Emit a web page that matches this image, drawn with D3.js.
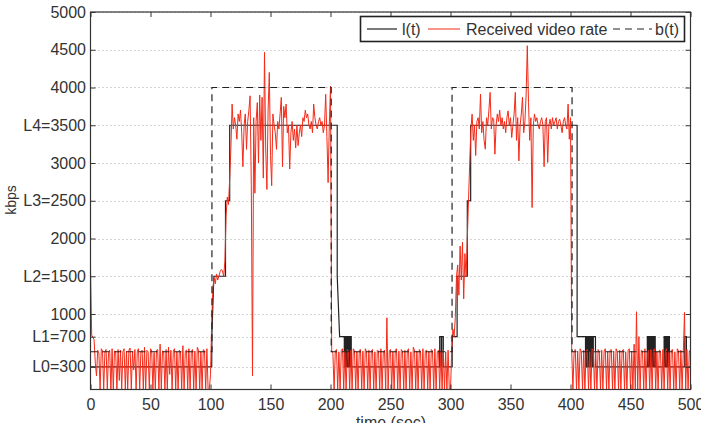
<!DOCTYPE html>
<html><head><meta charset="utf-8">
<script src="https://cdn.jsdelivr.net/npm/d3@7"></script>
<style>
html,body{margin:0;padding:0;background:#fff;}
svg{display:block;font-family:"Liberation Sans",Arial,Helvetica,sans-serif;}
</style></head>
<body>
<svg id="chart" width="701" height="423"></svg>
<script>
// ---- data ----
const xTicks = [0,50,100,150,200,250,300,350,400,450,500];
const yTickValues = [300,700,1000,1500,2000,2500,3000,3500,4000,4500,5000];
const yTickLabels = ["L0=300","L1=700","1000","L2=1500","2000","L3=2500","3000","L4=3500","4000","4500","5000"];
const legendLabels = ["l(t)","Received video rate","b(t)"];

// received video rate, 1 s samples, t = 0..100
const redIdle1 = [1600,720,690,660,350,180,520,480,0,540,510,0,500,530,0,490,520,0,540,0,
 510,500,0,530,120,520,0,500,540,0,510,0,520,550,0,500,260,530,0,510,
 540,0,500,520,0,560,0,520,500,0,540,510,0,490,0,520,530,0,600,0,
 510,500,0,530,0,560,200,520,0,510,540,0,500,0,520,500,0,580,0,510,
 520,0,540,0,500,530,0,510,0,560,520,0,500,0,530,510,0,540,0,0,200];
// t = 101..200
const redHigh1 = [900,1350,1480,1400,1530,1450,1500,1560,1590,1570,1500,1700,2300,2550,2450,2800,3200,3780,3450,3600,
 3500,3315,3650,3550,3700,3400,2950,3500,3650,3180,3550,3700,3890,2700,180,3600,2600,3550,3800,3000,
 3900,3300,3870,2800,4465,3200,2650,3700,4200,3100,2700,3650,3500,3400,3180,3550,3450,3650,3870,2950,
 3750,3600,3780,3400,3500,2920,3400,3550,3300,3450,3200,3500,3230,3400,3500,3350,3600,3550,3700,3600,
 3650,3500,3450,3550,3400,3780,3600,3500,3450,3550,3600,3500,3550,3400,3500,3910,3350,2740,3500,4020];
// t = 201..300
const redIdle2 = [520,480,0,510,530,0,500,0,520,540,0,510,0,530,500,0,520,0,540,510,
 0,500,0,520,530,0,510,0,540,500,0,520,0,510,530,0,500,0,520,510,
 0,540,0,500,520,0,950,0,510,530,0,500,0,520,540,0,510,0,530,500,
 0,520,0,510,540,0,500,0,560,520,0,510,0,530,500,0,540,0,510,520,
 0,500,0,530,510,0,540,0,500,520,0,510,0,530,0,500,0,520,0,0];
// t = 301..400
const redHigh2 = [500,800,700,950,1500,1650,1250,1900,1450,1950,1200,1800,1500,2000,2500,3000,3450,3647,3300,3500,
 3100,3550,3600,3450,3912,3400,3550,3300,3183,3600,3500,3700,3935,3450,3600,3580,3117,3500,3650,3550,
 3700,3500,3600,3450,3550,3400,3600,3690,3500,3600,3337,3500,3650,3935,3300,3600,3028,3500,3650,3870,
 3400,3550,3900,4553,3800,3300,3600,2410,3500,3650,3550,3600,3500,3450,3550,3600,3500,2950,3550,3600,
 3006,3500,3580,3450,3600,3500,3550,3600,3450,3550,3580,3500,3400,3550,3600,3500,3450,3780,3315,3600];
// t = 401..500
const redIdle3 = [520,0,500,530,0,510,0,540,500,0,520,0,510,530,0,500,0,540,520,0,
 510,0,530,500,0,520,0,510,540,0,500,0,520,530,0,510,0,540,500,0,
 520,0,510,530,0,500,0,520,540,0,510,0,600,0,1030,0,700,0,520,510,
 0,540,0,500,520,0,530,0,510,540,0,500,0,520,510,0,530,0,500,540,
 0,510,0,520,530,0,500,0,540,510,0,520,0,500,1020,0,530,0,510,520];

// l(t): breakpoints
const lTimes = [0,101,101.2,102.8,112.5,112.5,116,116,205.6,205.6,207.6,211.5,211.5,212.3,212.3,213,213,213.8,213.8,214.5,
 214.5,215.3,215.3,216,216,216.6,216.6,217.3,217.3,291,291,292.3,292.3,292.7,292.7,294,294,301.4,301.4,305.5,
 305.5,314,314,316.8,316.8,405.5,405.5,412.5,412.5,413.3,413.3,414.2,414.2,415,415,416,416,417,417,418,
 418,419,419,420.8,420.8,464,464,465,465,466,466,467,467,468,468,469,469,470,470,470.6,
 470.6,478,478,479,479,480,480,481,481,481.8,481.8,482.4,482.4,495.2,495.2,496.6,496.6,500];
const lValues = [300,300,750,1500,1500,2500,2500,3500,3500,1500,700,700,300,300,700,700,300,300,700,700,
 300,300,700,700,300,300,700,700,300,300,700,700,300,300,700,700,300,300,700,700,
 1500,1500,2500,2500,3500,3500,700,700,300,300,700,700,300,300,700,700,300,300,700,700,
 300,300,700,700,300,300,700,700,300,300,700,700,300,300,700,700,300,300,700,700,
 300,300,700,700,300,300,700,700,300,300,700,700,300,300,700,700,300,300];

// b(t): breakpoints
const bTimes = [0,101.2,101.2,200.6,200.6,301.3,301.3,401.3,401.3,500];
const bValues = [500,500,4000,4000,500,500,4000,4000,500,500];

// ---- drawing ----
const svg = d3.select("#chart");
const x = d3.scaleLinear().domain([0,500]).range([90.5,690.5]);
const y = d3.scaleLinear().domain([0,5000]).range([389.5,12]);
const textColor = "#333";

const redSeries = [].concat(redIdle1, redHigh1, redIdle2, redHigh2, redIdle3);
const redData = redSeries.map((v,i)=>({t:i, v:v}));
const lData = lTimes.map((t,i)=>({t:t, v:lValues[i]}));
const bData = bTimes.map((t,i)=>({t:t, v:bValues[i]}));

// grid
svg.append("g").selectAll("line").data(yTickValues).join("line")
  .attr("x1", x(0)).attr("x2", x(500))
  .attr("y1", d=>Math.round(y(d))+0.5).attr("y2", d=>Math.round(y(d))+0.5)
  .attr("stroke","#a8a8a8").attr("stroke-width",1).attr("stroke-dasharray","1,3");

// clip
svg.append("clipPath").attr("id","clip").append("rect")
  .attr("x",x(0)).attr("y",y(5000)).attr("width",x(500)-x(0)).attr("height",y(0)-y(5000));

const line = d3.line().x(d=>x(d.t)).y(d=>y(d.v));
const plot = svg.append("g").attr("clip-path","url(#clip)");
plot.append("path").datum(lData).attr("d",line)
  .attr("fill","none").attr("stroke","#222").attr("stroke-width",1.2);
plot.append("path").datum(redData).attr("d",line)
  .attr("fill","none").attr("stroke","#f42a18").attr("stroke-width",1);
plot.append("path").datum(bData).attr("d",line)
  .attr("fill","none").attr("stroke","#222").attr("stroke-width",1.2).attr("stroke-dasharray","7,5");

// axes
const fontSize = 16;
const gx = svg.append("g").attr("transform",`translate(0,${y(0)})`)
  .call(d3.axisBottom(x).tickValues(xTicks).tickSize(-5).tickPadding(9).tickFormat(d3.format("d")));
const gxt = svg.append("g").attr("transform",`translate(0,${y(5000)})`)
  .call(d3.axisTop(x).tickValues(xTicks).tickSize(-5).tickFormat(""));
const gy = svg.append("g").attr("transform",`translate(${x(0)},0)`)
  .call(d3.axisLeft(y).tickValues(yTickValues).tickSize(-5).tickPadding(4.5).tickFormat((d,i)=>yTickLabels[i]));
const gyr = svg.append("g").attr("transform",`translate(${x(500)},0)`)
  .call(d3.axisRight(y).tickValues(yTickValues).tickSize(-5).tickFormat(""));
[gx,gxt,gy,gyr].forEach(g=>{
  g.select(".domain").remove();
  g.selectAll(".tick line").attr("stroke","#333").attr("stroke-width",1);
  g.selectAll("text").attr("font-size",fontSize).attr("fill",textColor)
    .attr("font-family","'Liberation Sans',Arial,sans-serif");
});

// frame
svg.append("rect").attr("x",x(0)).attr("y",y(5000)).attr("width",x(500)-x(0)).attr("height",y(0)-y(5000))
  .attr("fill","none").attr("stroke","#333").attr("stroke-width",1.2);

// axis titles
svg.append("text").attr("x",391).attr("y",428).attr("text-anchor","middle")
  .attr("font-size",fontSize).attr("fill",textColor).text("time (sec)");
svg.append("text").attr("transform","translate(16,200) rotate(-90)").attr("text-anchor","middle")
  .attr("font-size",14).attr("fill",textColor).text("kbps");

// legend
const lg = svg.append("g");
lg.append("rect").attr("x",360.5).attr("y",16.5).attr("width",324).attr("height",25)
  .attr("fill","#fff").attr("stroke","#222").attr("stroke-width",1.6);
const ly = 29;
lg.append("line").attr("x1",367).attr("x2",397).attr("y1",ly).attr("y2",ly).attr("stroke","#222").attr("stroke-width",1.2);
lg.append("text").attr("x",402).attr("y",ly+5.7).attr("font-size",fontSize).attr("fill",textColor).text(legendLabels[0]);
lg.append("line").attr("x1",428).attr("x2",460).attr("y1",ly).attr("y2",ly).attr("stroke","#f42a18").attr("stroke-width",1);
lg.append("text").attr("x",466).attr("y",ly+5.7).attr("font-size",fontSize).attr("fill",textColor).text(legendLabels[1]);
lg.append("line").attr("x1",613).attr("x2",652).attr("y1",ly).attr("y2",ly).attr("stroke","#222").attr("stroke-width",1.2).attr("stroke-dasharray","7,5");
lg.append("text").attr("x",655).attr("y",ly+5.7).attr("font-size",fontSize).attr("fill",textColor).text(legendLabels[2]);
</script>
</body></html>
